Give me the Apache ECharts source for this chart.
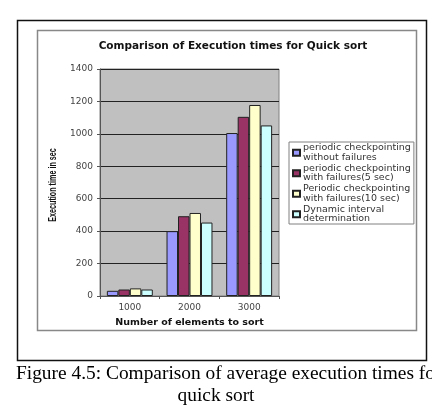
<!DOCTYPE html>
<html>
<head>
<meta charset="utf-8">
<script src="https://cdn.jsdelivr.net/npm/echarts@6/dist/echarts.min.js"></script>
<style>
  html, body { margin: 0; padding: 0; background: #fff; }
  #chart { width: 432px; height: 410px; }
</style>
</head>
<body>
<div id="chart"></div>
<script>
const categories = ['1000', '2000', '3000'];
const seriesNames = [
  'periodic checkpointing\nwithout failures',
  'periodic checkpointing\nwith failures(5 sec)',
  'Periodic checkpointing\nwith failures(10 sec)',
  'Dynamic interval\ndetermination'
];
const noFailures = [32, 400, 1005];
const failures5 = [40, 492, 1105];
const failures10 = [47, 512, 1178];
const dynamicInterval = [40, 453, 1052];
const barColors = ['#9999ff', '#993366', '#ffffcc', '#ccffff'];
const yTicks = [0, 1400, 200];

const chart = echarts.init(document.getElementById('chart'));

const seriesData = [noFailures, failures5, failures10, dynamicInterval];

const option = {
  backgroundColor: '#fff',
  animation: false,
  title: {
    text: 'Comparison of Execution times for Quick sort',
    left: 228,
    textAlign: 'center',
    top: 36,
    textStyle: { fontFamily: 'DejaVu Sans', fontSize: 10.5, fontWeight: 'bold', color: '#111' }
  },
  legend: {
    data: seriesNames,
    orient: 'vertical',
    left: 289,
    top: 142,
    itemWidth: 7,
    itemHeight: 6,
    itemGap: 1,
    padding: [1, 3, 0, 3],
    backgroundColor: '#fff',
    borderColor: '#808080',
    borderWidth: 1,
    icon: 'rect',
    textStyle: { fontFamily: 'DejaVu Sans', fontSize: 9.5, lineHeight: 9.5, color: '#333', padding: [0, 0, 0, -2] }
  },
  grid: {
    left: 100,
    right: 153,
    top: 69,
    height: 227,
    show: true,
    backgroundColor: '#c0c0c0',
    borderColor: '#808080',
    borderWidth: 1
  },
  xAxis: {
    type: 'category',
    data: categories,
    name: 'Number of elements to sort',
    nameLocation: 'middle',
    nameGap: 22,
    nameTextStyle: { fontFamily: 'DejaVu Sans', fontSize: 9.5, fontWeight: 'bold', color: '#111' },
    axisLine: { lineStyle: { color: '#555', width: 1 } },
    axisTick: { show: true, length: 3, lineStyle: { color: '#555' } },
    axisLabel: { fontFamily: 'DejaVu Sans', fontSize: 9, color: '#444', margin: 7 }
  },
  yAxis: {
    type: 'value',
    min: yTicks[0],
    max: yTicks[1],
    interval: yTicks[2],
    axisLine: { show: true, lineStyle: { color: '#555', width: 1 } },
    axisTick: { show: true, length: 3, lineStyle: { color: '#555' } },
    axisLabel: { fontFamily: 'DejaVu Sans', fontSize: 9, color: '#444', margin: 7, formatter: v => String(v) },
    splitLine: { lineStyle: { color: '#222', width: 1 } }
  },
  series: seriesNames.map((name, i) => ({
    name: name,
    type: 'bar',
    data: seriesData[i],
    barGap: '0%',
    barCategoryGap: '23%',
    itemStyle: { color: barColors[i], borderColor: '#222', borderWidth: 1 }
  })),
  graphic: [
    {
      type: 'rect',
      shape: { x: 17.5, y: 20.5, width: 409, height: 340 },
      style: { fill: 'none', stroke: '#111', lineWidth: 1.5 },
      z: -1
    },
    {
      type: 'rect',
      shape: { x: 37.5, y: 30.5, width: 379, height: 300 },
      style: { fill: 'none', stroke: '#888', lineWidth: 1.5 },
      z: -1
    },
    {
      type: 'text',
      x: 53,
      y: 185,
      rotation: Math.PI / 2,
      scaleX: 0.72,
      style: {
        text: 'Execution time in sec',
        font: 'bold 10px "Liberation Sans"',
        fill: '#111',
        align: 'center',
        verticalAlign: 'middle'
      }
    },
    {
      type: 'text',
      x: 16,
      y: 364,
      style: {
        text: 'Figure 4.5: Comparison of average execution times for',
        font: '19.4px "Liberation Serif"',
        fill: '#000'
      }
    },
    {
      type: 'text',
      x: 216,
      y: 386,
      style: {
        text: 'quick sort',
        font: '19.4px "Liberation Serif"',
        fill: '#000',
        align: 'center'
      }
    }
  ]
};

chart.setOption(option);
</script>
</body>
</html>
